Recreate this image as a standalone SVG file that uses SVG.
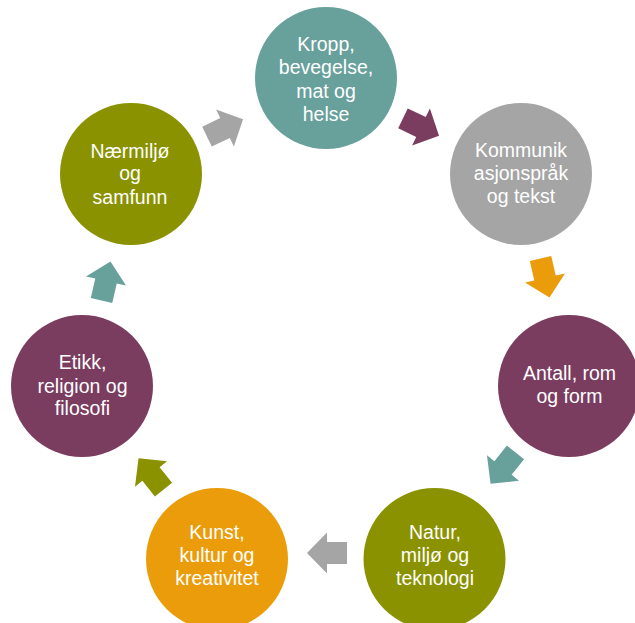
<svg xmlns="http://www.w3.org/2000/svg" width="635" height="623" viewBox="0 0 635 623">
<defs>
<style>
.lbl{font-family:"Liberation Sans",Arial,sans-serif;font-size:19.5px;fill:#ffffff;text-anchor:middle}
.teal{fill:#68A09C}.grey{fill:#A5A5A5}.purple{fill:#7A3C5F}.olive{fill:#8A9200}.orange{fill:#EA9C0A}
</style>
<path id="arr" d="M -20,-11 L 0,-11 L 0,-20.5 L 20,0 L 0,20.5 L 0,11 L -20,11 Z"/>
</defs>
<rect width="635" height="623" fill="#ffffff"/>
<g id="connectors">
<use href="#arr" class="grey" transform="translate(225,128) rotate(-25.7)"/>
<use href="#arr" class="purple" transform="translate(421,127) rotate(25.7)"/>
<use href="#arr" class="orange" transform="translate(545,278) rotate(77.1)"/>
<use href="#arr" class="teal" transform="translate(503,468) rotate(128.6)"/>
<use href="#arr" class="grey" transform="translate(327,553) rotate(180)"/>
<use href="#arr" class="olive" transform="translate(151,474) rotate(231.4)"/>
<use href="#arr" class="teal" transform="translate(106,281) rotate(282.9)"/>
</g>
<g id="kropp">
<circle cx="326" cy="78" r="71" class="teal"/>
<text class="lbl" x="326" y="51">Kropp,</text>
<text class="lbl" x="326" y="74">bevegelse,</text>
<text class="lbl" x="326" y="97.5">mat og</text>
<text class="lbl" x="326" y="121">helse</text>
</g>
<g id="kommunikasjon">
<circle cx="521" cy="174" r="71" class="grey"/>
<text class="lbl" x="521" y="157">Kommunik</text>
<text class="lbl" x="521" y="180">asjonspråk</text>
<text class="lbl" x="521" y="203">og tekst</text>
</g>
<g id="antall">
<circle cx="569" cy="386" r="71" class="purple"/>
<text class="lbl" x="569.5" y="380">Antall, rom</text>
<text class="lbl" x="569.5" y="403">og form</text>
</g>
<g id="natur">
<circle cx="434.5" cy="559" r="71" class="olive"/>
<text class="lbl" x="435" y="538.5">Natur,</text>
<text class="lbl" x="435" y="562">miljø og</text>
<text class="lbl" x="435" y="585">teknologi</text>
</g>
<g id="kunst">
<circle cx="217" cy="559" r="71" class="orange"/>
<text class="lbl" x="217" y="538.5">Kunst,</text>
<text class="lbl" x="217" y="562">kultur og</text>
<text class="lbl" x="217" y="585">kreativitet</text>
</g>
<g id="etikk">
<circle cx="82" cy="386" r="71" class="purple"/>
<text class="lbl" x="82.5" y="368.5">Etikk,</text>
<text class="lbl" x="82.5" y="392.5">religion og</text>
<text class="lbl" x="82.5" y="415">filosofi</text>
</g>
<g id="naermiljo">
<circle cx="131" cy="174" r="71" class="olive"/>
<text class="lbl" x="130" y="157.5">Nærmiljø</text>
<text class="lbl" x="130" y="180">og</text>
<text class="lbl" x="130" y="203.5">samfunn</text>
</g>
</svg>
